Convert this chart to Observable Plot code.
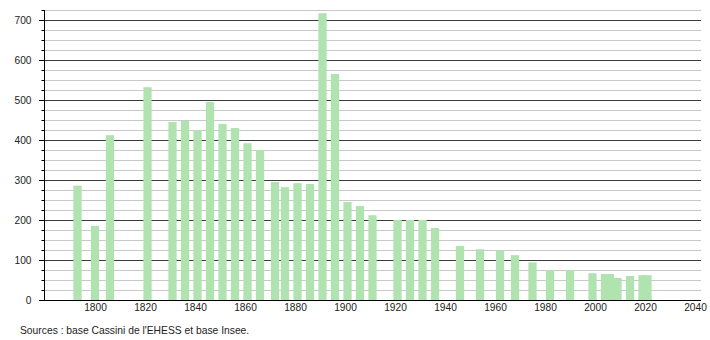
<!DOCTYPE html>
<html>
<head>
<meta charset="utf-8">
<script src="https://cdn.jsdelivr.net/npm/d3@7"></script>
<script src="https://cdn.jsdelivr.net/npm/@observablehq/plot@0.6"></script>
<style>
  body { margin: 0; background: #fff; font-family: "Liberation Sans", Arial, sans-serif; }
  #caption { font-size: 10.3px; color: #222; margin: 6px 0 0 20px; line-height: 13px; }
</style>
</head>
<body>
<div id="chart"></div>
<div id="caption">Sources : base Cassini de l'EHESS et base Insee.</div>
<script>
const years = [1793, 1800, 1806, 1821, 1831, 1836, 1841, 1846, 1851, 1856, 1861, 1866,
  1872, 1876, 1881, 1886, 1891, 1896, 1901, 1906, 1911, 1921, 1926, 1931, 1936,
  1946, 1954, 1962, 1968, 1975, 1982, 1990, 1999, 2004, 2006, 2009, 2014, 2019, 2021];
const population = [286, 185, 412, 532, 445, 448, 424, 495, 440, 430, 392, 375,
  295, 282, 292, 290, 717, 565, 245, 235, 212, 200, 200, 200, 180,
  135, 127, 124, 112, 94, 75, 75, 67, 65, 65, 55, 60, 62, 62];
const xTicks = [1800, 1820, 1840, 1860, 1880, 1900, 1920, 1940, 1960, 1980, 2000, 2020, 2040];
const yMajor = [0, 100, 200, 300, 400, 500, 600, 700];
const yMinor = [25, 50, 75, 125, 150, 175, 225, 250, 275, 325, 350, 375, 425, 450, 475,
  525, 550, 575, 625, 650, 675, 725];
const xDomain = [1779.6, 2042.4];
const yDomain = [0, 725];
const halfBar = 1.65;

const data = years.map((y, i) => ({year: y, pop: population[i]}));

const chart = Plot.plot({
  width: 710,
  height: 318,
  marginLeft: 44,
  marginRight: 9,
  marginTop: 10,
  marginBottom: 18,
  style: {fontFamily: "'Liberation Sans', Arial, sans-serif", fontSize: "10px", color: "#222", background: "#fff"},
  x: {domain: xDomain, label: null},
  y: {domain: yDomain, label: null},
  marks: [
    Plot.ruleY(yMinor, {stroke: "#c8c8c8", strokeWidth: 1}),
    Plot.ruleY(yMajor, {stroke: "#3a3a3a", strokeWidth: 1}),
    Plot.rectY(data, {x1: d => d.year - halfBar, x2: d => d.year + halfBar, y: "pop", fill: "#b1e3b1"}),
    Plot.ruleX([xDomain[0]], {stroke: "#000", strokeWidth: 1}),
    Plot.ruleY([0], {stroke: "#000", strokeWidth: 1}),
    Plot.axisY(yMajor, {tickSize: 5, tickPadding: 8, fontSize: 10.2, stroke: "#000"}),
    Plot.axisY(yMinor, {tickSize: 2.5, tickFormat: () => "", stroke: "#000"}),
    Plot.axisX(xTicks, {tickSize: 0, tickPadding: 3.5, fontSize: 10.2, tickFormat: d => String(d)})
  ]
});
document.getElementById("chart").appendChild(chart);
</script>
</body>
</html>
